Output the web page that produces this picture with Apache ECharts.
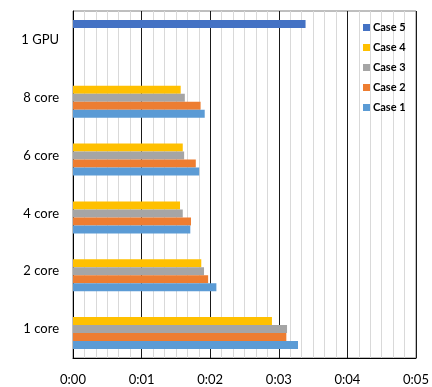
<!DOCTYPE html>
<html>
<head>
<meta charset="utf-8">
<script src="https://cdn.jsdelivr.net/npm/echarts@6/dist/echarts.min.js"></script>
<style>
  html, body { margin: 0; padding: 0; background: #fff; }
  #chart { width: 432px; height: 387px; }
</style>
</head>
<body>
<div id="chart"></div>
<script>
// Run times (minutes) per configuration
const categories = ['1 core', '2 core', '4 core', '6 core', '8 core', '1 GPU'];
const case1 = [3.28, 2.09, 1.71, 1.84, 1.92, '-'];
const case2 = [3.11, 1.97, 1.72, 1.79, 1.86, '-'];
const case3 = [3.12, 1.91, 1.60, 1.62, 1.63, '-'];
const case4 = [2.90, 1.87, 1.56, 1.60, 1.57, '-'];
const case5 = ['-', '-', '-', '-', '-', 3.39];
const xTicks = ['0:00', '0:01', '0:02', '0:03', '0:04', '0:05'];

// Series listed top-to-bottom within each category group
const seriesNames = ['Case 5', 'Case 4', 'Case 3', 'Case 2', 'Case 1'];
const seriesData = [case5, case4, case3, case2, case1];
const colors = ['#4472C4', '#FFC000', '#A5A5A5', '#ED7D31', '#5B9BD5'];

const font = 'Lato, "Liberation Sans", sans-serif';
const chart = echarts.init(document.getElementById('chart'), null, { renderer: 'canvas' });

chart.setOption({
  animation: false,
  textStyle: { fontFamily: font },
  grid: { left: 73, right: 16, top: 11, bottom: 29, show: true, borderColor: '#7f7f7f', borderWidth: 1 },
  legend: {
    data: seriesNames,
    orient: 'vertical',
    left: 358,
    top: 17,
    itemWidth: 7,
    itemHeight: 7,
    itemGap: 9,
    icon: 'rect',
    textStyle: { fontFamily: font, fontSize: 11, fontWeight: 'bold', color: '#000', padding: [0, 0, 0, -2] }
  },
  xAxis: {
    type: 'value',
    min: 0,
    max: 5,
    interval: 1,
    axisLine: { show: true, lineStyle: { color: '#000', width: 1 } },
    axisTick: { show: false },
    axisLabel: {
      fontSize: 13, color: '#000', margin: 15,
      formatter: v => xTicks[Math.round(v)]
    },
    splitLine: { show: true, lineStyle: { color: '#1a1a1a', width: 1 } },
    minorTick: { show: false, splitNumber: 6 },
    minorSplitLine: { show: true, lineStyle: { color: '#d9d9d9', width: 1 } }
  },
  yAxis: {
    type: 'category',
    data: categories,
    axisLine: { show: true, lineStyle: { color: '#000', width: 1 } },
    axisTick: { show: false },
    axisLabel: { fontSize: 13, color: '#000', margin: 14 }
  },
  series: seriesNames.map((name, i) => ({
    name,
    type: 'bar',
    data: seriesData[i],
    barWidth: 8,
    barGap: '0%',
    barCategoryGap: '31%',
    itemStyle: { color: colors[i] }
  }))
});
</script>
</body>
</html>
